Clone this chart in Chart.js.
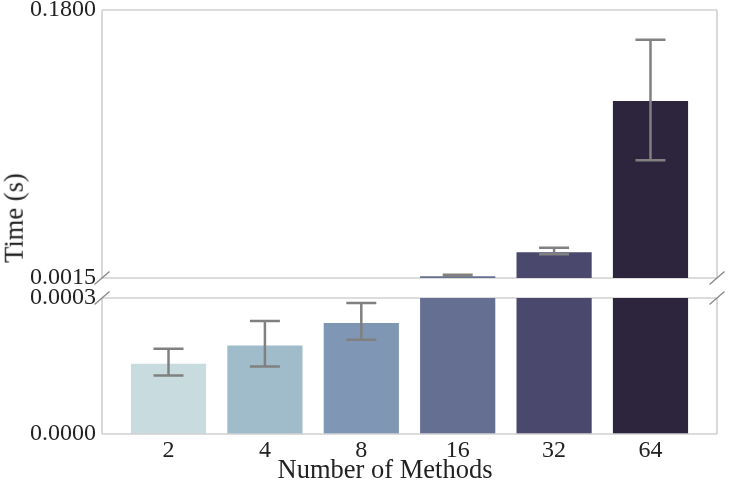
<!DOCTYPE html>
<html><head><meta charset="utf-8">
<script src="https://cdn.jsdelivr.net/npm/chart.js@4.4.0/dist/chart.umd.min.js"></script>
<style>
html,body{margin:0;padding:0;background:#fff;width:732px;height:488px;overflow:hidden;position:relative;}
#topWrap{position:absolute;left:0;top:-20px;width:732px;height:508px;}
#botWrap{position:absolute;left:0;top:0;width:732px;height:488px;}
.lbl{position:absolute;font:26.5px "Liberation Serif";line-height:1;color:#222;white-space:nowrap;}
#ytitle{left:14px;top:218px;transform:translate(-50%,-50%) rotate(-90deg);}
#xtitle{left:385px;top:469px;transform:translate(-50%,-50%);}
</style></head>
<body>
<div id="botWrap"><canvas id="bot" width="732" height="488"></canvas></div>
<div id="topWrap"><canvas id="top" width="732" height="508"></canvas></div>
<div id="ytitle" class="lbl"></div>
<div id="xtitle" class="lbl"></div>
<script>
// ---- data ----
const categories = ['2', '4', '8', '16', '32', '64'];
const meanTime = [0.000155, 0.000195, 0.000245, 0.0027, 0.0186, 0.1194];
const errLow   = [0.000129, 0.000149, 0.000208, 0.0030, 0.0173, 0.0800];
const errHigh  = [0.000188, 0.000249, 0.000289, 0.0036, 0.0217, 0.1602];
const topTicks = [0.0015, 0.18];
const bottomTicks = [0, 0.0003];
const barColors = ['#c8dce0', '#a0bccb', '#7f97b4', '#656f91', '#4a486d', '#2d253e'];
const xTitle = 'Number of Methods';
const yTitle = 'Time (s)';

document.getElementById('xtitle').textContent = xTitle;
document.getElementById('ytitle').textContent = yTitle;

// ---- styles ----
const FONT = 'Liberation Serif';
const TXT = '#222';
const FRAME = '#d0d0d0';
const ERR = '#808080';
Chart.defaults.font.family = FONT;
Chart.defaults.color = TXT;

function errorBars() {
  return {
    id: 'errorBars',
    afterDatasetsDraw(chart) {
      const {ctx, chartArea: a, scales: {x, y}} = chart;
      ctx.save();
      ctx.beginPath(); ctx.rect(a.left, a.top, a.right - a.left, a.bottom - a.top); ctx.clip();
      ctx.strokeStyle = ERR; ctx.lineWidth = 2.5;
      categories.forEach((c, i) => {
        const px = x.getPixelForValue(i);
        const y1 = y.getPixelForValue(errLow[i]);
        const y2 = y.getPixelForValue(errHigh[i]);
        ctx.beginPath();
        ctx.moveTo(px, y1); ctx.lineTo(px, y2);
        ctx.moveTo(px - 15, y1); ctx.lineTo(px + 15, y1);
        ctx.moveTo(px - 15, y2); ctx.lineTo(px + 15, y2);
        ctx.stroke();
      });
      ctx.restore();
    }
  };
}

function frame(underEdge, overEdges, breakEdge) {
  function line(ctx, a, e) {
    ctx.beginPath();
    if (e === 'top') { ctx.moveTo(a.left, a.top); ctx.lineTo(a.right, a.top); }
    if (e === 'bottom') { ctx.moveTo(a.left, a.bottom); ctx.lineTo(a.right, a.bottom); }
    if (e === 'left') { ctx.moveTo(a.left, a.top); ctx.lineTo(a.left, a.bottom); }
    if (e === 'right') { ctx.moveTo(a.right, a.top); ctx.lineTo(a.right, a.bottom); }
    ctx.stroke();
  }
  return {
    id: 'frame',
    beforeDatasetsDraw(chart) {
      const {ctx, chartArea: a} = chart;
      ctx.save(); ctx.strokeStyle = FRAME; ctx.lineWidth = 1.6;
      line(ctx, a, underEdge);
      ctx.restore();
    },
    afterDatasetsDraw(chart) {
      const {ctx, chartArea: a} = chart;
      ctx.save(); ctx.strokeStyle = FRAME; ctx.lineWidth = 1.6;
      overEdges.forEach(e => line(ctx, a, e));
      const yb = breakEdge === 'bottom' ? a.bottom : a.top;
      ctx.strokeStyle = '#8a8a8a'; ctx.lineWidth = 1.4;
      [a.left, a.right].forEach(xb => {
        ctx.beginPath(); ctx.moveTo(xb - 7.5, yb + 6.5); ctx.lineTo(xb + 7.5, yb - 6.5); ctx.stroke();
      });
      ctx.restore();
    }
  };
}

function makeChart(id, yTicks, showX, padding) {
  return new Chart(document.getElementById(id), {
    type: 'bar',
    data: {
      datasets: [{
        data: meanTime.map((v, i) => ({x: i, y: v})),
        backgroundColor: barColors,
        borderWidth: 0,
        barPercentage: 1,
        categoryPercentage: 0.78
      }]
    },
    options: {
      responsive: false,
      animation: false,
      layout: {padding},
      plugins: {legend: {display: false}, tooltip: {enabled: false}},
      scales: {
        x: {
          type: 'linear', min: -0.69, max: 5.69, offset: false,
          grid: {display: false, drawTicks: false}, border: {display: false},
          afterBuildTicks: s => { s.ticks = categories.map((c, i) => ({value: i})); },
          ticks: {display: showX, autoSkip: false, maxRotation: 0, padding: 2,
                  font: {size: 24}, color: TXT,
                  callback: v => categories[v] ?? ''},
          afterFit: s => { s.height = showX ? 50 : 0; }
        },
        y: {
          type: 'linear', min: yTicks[0], max: yTicks[yTicks.length - 1],
          grid: {display: false, drawTicks: false}, border: {display: false},
          afterBuildTicks: s => { s.ticks = yTicks.map(v => ({value: v})); },
          ticks: {padding: 6, font: {size: 24}, color: TXT, callback: v => Number(v).toFixed(4)},
          afterFit: s => { s.width = 102; }
        }
      }
    },
    plugins: showX ? [frame('top', ['bottom', 'left', 'right'], 'top'), errorBars()]
                   : [frame('bottom', ['top', 'left', 'right'], 'bottom'), errorBars()]
  });
}

makeChart('top', topTicks, false, {top: 30, left: 0, right: 15, bottom: 210});
makeChart('bot', bottomTicks, true, {top: 298, left: 0, right: 15, bottom: 4});
</script>
</body></html>
